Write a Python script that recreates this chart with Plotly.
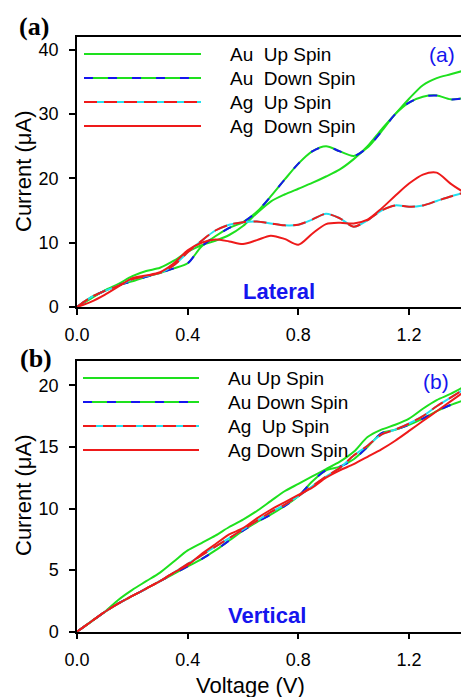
import plotly.graph_objects as go

# Bias voltage grid (V)
voltage = [0.00, 0.05, 0.10, 0.15, 0.20, 0.25, 0.30, 0.35, 0.40, 0.45,
           0.50, 0.55, 0.60, 0.65, 0.70, 0.75, 0.80, 0.85, 0.90, 0.95,
           1.00, 1.05, 1.10, 1.15, 1.20, 1.25, 1.30, 1.35, 1.40]

# (a) Lateral configuration, current in uA
lat_au_up = [0, 1.3, 2.6, 3.6, 4.8, 5.6, 6.1, 7.2, 8.6, 9.6,
             10.3, 11.2, 12.6, 14.6, 16.4, 17.5, 18.4, 19.3, 20.3, 21.4,
             23.0, 25.0, 27.6, 30.0, 32.4, 34.5, 35.6, 36.2, 36.8]
lat_au_down = [0, 1.5, 2.5, 3.4, 4.0, 4.7, 5.3, 6.0, 6.8, 9.4,
               11.0, 12.3, 13.2, 14.8, 17.2, 19.8, 22.3, 24.2, 25.0, 24.2,
               23.5, 24.8, 27.3, 30.0, 31.8, 32.7, 32.9, 32.3, 32.5]
lat_ag_up = [0, 1.5, 2.5, 3.3, 4.3, 4.8, 5.3, 6.5, 8.5, 10.3,
             11.9, 12.8, 13.2, 13.3, 13.0, 12.7, 12.8, 13.6, 14.5, 13.8,
             12.5, 13.5, 15.0, 15.8, 15.6, 15.8, 16.5, 17.2, 17.8]
lat_ag_down = [0, 0.8, 1.9, 3.2, 4.5, 4.9, 5.4, 6.8, 8.8, 10.0,
               10.5, 10.2, 9.8, 10.4, 11.1, 10.6, 9.7, 11.4, 12.9, 13.1,
               13.0, 13.6, 15.3, 17.3, 19.2, 20.6, 20.9, 19.2, 17.8]

# (b) Vertical configuration, current in uA
ver_au_up = [0, 0.8, 1.6, 2.6, 3.4, 4.1, 4.8, 5.7, 6.6, 7.2,
             7.8, 8.5, 9.1, 9.8, 10.6, 11.4, 12.0, 12.6, 13.2, 13.8,
             14.6, 15.8, 16.4, 16.8, 17.3, 18.1, 18.8, 19.3, 19.9]
ver_au_down = [0, 0.8, 1.6, 2.3, 2.9, 3.5, 4.1, 4.7, 5.3, 5.9,
               6.6, 7.4, 8.2, 8.9, 9.5, 10.2, 11.0, 12.2, 13.1, 13.4,
               14.0, 15.0, 16.1, 16.4, 16.8, 17.3, 17.9, 18.4, 18.8]
ver_ag_up = [0, 0.8, 1.6, 2.3, 2.9, 3.5, 4.1, 4.8, 5.5, 6.2,
             6.9, 7.6, 8.3, 9.0, 9.7, 10.3, 11.0, 11.8, 12.6, 13.3,
             14.3, 15.1, 16.0, 16.4, 16.9, 17.5, 18.3, 19.0, 19.7]
ver_ag_down = [0, 0.8, 1.6, 2.3, 2.9, 3.5, 4.1, 4.8, 5.4, 6.3,
               7.1, 7.9, 8.4, 9.2, 9.9, 10.5, 11.1, 11.7, 12.5, 13.1,
               13.6, 14.2, 14.8, 15.5, 16.3, 17.1, 17.9, 18.7, 19.5]

x_ticks = [0.0, 0.4, 0.8, 1.2]
lat_y_ticks = [0, 10, 20, 30, 40]
ver_y_ticks = [0, 5, 10, 15, 20]

legend_a = ["Au\u00a0 Up Spin", "Au\u00a0 Down Spin", "Ag\u00a0 Up Spin", "Ag\u00a0 Down Spin"]
legend_b = ["Au Up Spin", "Au Down Spin", "Ag\u00a0 Up Spin", "Ag Down Spin"]

W, H = 461, 697
GREEN = "#1ee01e"
BLUE = "#1515ee"
RED = "#ee1a1a"
CYAN = "#22e0ee"
LW = 2
SANS = "Liberation Sans, Arial"

def px(x):
    return x / W

def py(y):
    return 1 - y / H

# series styles: (base color, overlay dash color or None, overlay dash)
styles = [
    (GREEN, None, None),
    (GREEN, BLUE, "9px,15px"),
    (CYAN, RED, "13px,7px"),
    (RED, None, None),
]

fig = go.Figure()

def add_panel(series, xa, ya):
    for data, (base, over, dash) in zip(series, styles):
        fig.add_trace(go.Scatter(x=voltage, y=data, mode="lines", xaxis=xa, yaxis=ya,
                                 line=dict(color=base, width=LW, shape="spline", smoothing=0.8),
                                 showlegend=False, hoverinfo="skip"))
        if over:
            fig.add_trace(go.Scatter(x=voltage, y=data, mode="lines", xaxis=xa, yaxis=ya,
                                     line=dict(color=over, width=LW, shape="spline",
                                               smoothing=0.8, dash=dash),
                                     showlegend=False, hoverinfo="skip"))

add_panel([lat_au_up, lat_au_down, lat_ag_up, lat_ag_down], "x", "y")
add_panel([ver_au_up, ver_au_down, ver_ag_up, ver_ag_down], "x2", "y2")

axis_common = dict(showline=True, linecolor="black", linewidth=1.5, ticks="outside",
                   ticklen=6, tickwidth=1.5, tickcolor="black", showgrid=False,
                   zeroline=False, automargin=False,
                   tickfont=dict(family=SANS, size=18, color="black"))
x_dom = [px(77), 1.0]
xr = [0, (461 - 77) / 276.7]

fig.update_layout(
    width=W, height=H, margin=dict(l=0, r=0, t=0, b=0, autoexpand=False),
    paper_bgcolor="white", plot_bgcolor="white", showlegend=False,
    xaxis=dict(domain=x_dom, range=xr, anchor="y", tickvals=x_ticks, tickformat=".1f",
               mirror=True, ticklabelstandoff=5, **axis_common),
    yaxis=dict(domain=[py(307), py(37)], range=[0, 42], anchor="x", tickvals=lat_y_ticks,
               ticklabelstandoff=7, **axis_common),
    xaxis2=dict(domain=x_dom, range=xr, anchor="y2", tickvals=x_ticks, tickformat=".1f",
                mirror=True, ticklabelstandoff=5, **axis_common),
    yaxis2=dict(domain=[py(631.7), py(360.7)], range=[0, 22], anchor="x2",
                tickvals=ver_y_ticks, ticklabelstandoff=7, **axis_common),
)

shapes = []
annotations = []

def add_legend(labels, rows, x0, x1, xt):
    for (base, over, dash), label, row in zip(styles, labels, rows):
        shapes.append(dict(type="line", xref="paper", yref="paper", x0=px(x0), x1=px(x1),
                           y0=py(row), y1=py(row), line=dict(color=base, width=LW)))
        if over:
            shapes.append(dict(type="line", xref="paper", yref="paper", x0=px(x0), x1=px(x1),
                               y0=py(row), y1=py(row),
                               line=dict(color=over, width=LW, dash=dash)))
        annotations.append(dict(text=label, xref="paper", yref="paper", x=px(xt), y=py(row),
                                xanchor="left", yanchor="middle", showarrow=False,
                                font=dict(family=SANS, size=19, color="black")))

add_legend(legend_a, [54, 78, 102, 126], 84, 201, 228)
add_legend(legend_b, [378, 402, 426, 450], 83, 199, 226)

def text(t, x, y, size, color="black", family=SANS, angle=0):
    annotations.append(dict(text=t, xref="paper", yref="paper", x=px(x), y=py(y),
                            xanchor="center", yanchor="middle", showarrow=False,
                            textangle=angle, font=dict(family=family, size=size, color=color)))

text("<b>(a)</b>", 34, 27, 26, family="Liberation Serif, Times New Roman")
text("<b>(b)</b>", 36, 358, 26, family="Liberation Serif, Times New Roman")
text("(a)", 442, 54, 21, color=BLUE)
text("(b)", 436, 381, 21, color=BLUE)
text("<b>Lateral</b>", 279, 291, 22, color=BLUE)
text("<b>Vertical</b>", 267, 615, 22, color=BLUE)
text("Current (\u03bcA)", 23, 172, 22, angle=-90)
text("Current (\u03bcA)", 23, 496, 22, angle=-90)
text("Voltage (V)", 250, 685, 22)

fig.update_layout(shapes=shapes, annotations=annotations)
fig.write_html("out.html")
